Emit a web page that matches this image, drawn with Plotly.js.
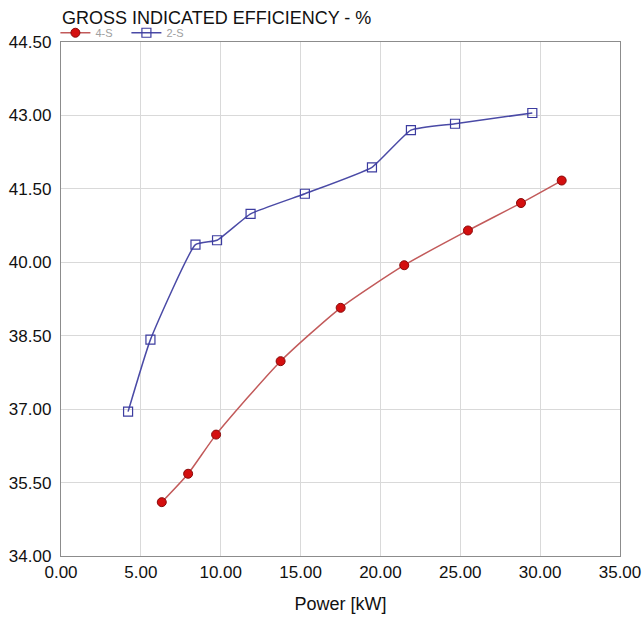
<!DOCTYPE html>
<html>
<head>
<meta charset="utf-8">
<script src="https://cdn.plot.ly/plotly-3.0.1.min.js"></script>
<style>html,body{margin:0;padding:0;background:#fff;}#chart{width:644px;height:618px;}</style>
</head>
<body>
<div id="chart"></div>
<script>
const power4S = [6.31, 7.96, 9.71, 13.75, 17.51, 21.49, 25.48, 28.80, 31.35];
const eff4S   = [35.10, 35.68, 36.48, 37.98, 39.07, 39.94, 40.65, 41.21, 41.67];
const power2S = [4.20, 5.60, 8.42, 9.77, 11.87, 15.27, 19.47, 21.91, 24.67, 29.51];
const eff2S   = [36.95, 38.42, 40.36, 40.45, 40.99, 41.40, 41.94, 42.70, 42.83, 43.05];
const xTicks = [0, 5, 10, 15, 20, 25, 30, 35];
const yTicks = [34, 35.5, 37, 38.5, 40, 41.5, 43, 44.5];

const font = "Liberation Sans, Arial, sans-serif";
const traces = [
  {x: power4S, y: eff4S, name: '4-S', type: 'scatter', mode: 'lines+markers',
   line: {color: '#c25a5a', width: 1.5, shape: 'spline', smoothing: 0.6},
   marker: {symbol: 'circle', size: 9, color: '#d40f0f', line: {color: '#8a0a0a', width: 1}}},
  {x: power2S, y: eff2S, name: '2-S', type: 'scatter', mode: 'lines+markers',
   line: {color: '#4a4aa6', width: 1.5, shape: 'spline', smoothing: 0.4},
   marker: {symbol: 'square-open', size: 9, color: '#3c3ca0', line: {width: 1.2}}}
];
const layout = {
  width: 644, height: 618,
  margin: {l: 61, r: 24, t: 42, b: 62},
  paper_bgcolor: '#fff', plot_bgcolor: '#fff',
  font: {family: font, color: '#111'},
  title: {text: 'GROSS INDICATED EFFICIENCY - %', x: 62/644, xref: 'container', xanchor: 'left',
          y: 1 - 18/618, yref: 'container', yanchor: 'middle',
          font: {family: font, size: 18, color: '#111'}},
  showlegend: true,
  legend: {orientation: 'h', x: -0.01, xanchor: 'left', y: 1.018, yanchor: 'middle',
           font: {family: font, size: 11, color: '#a0a0a0'}, bgcolor: 'rgba(0,0,0,0)',
           tracegroupgap: 0, itemwidth: 30, entrywidth: 26, entrywidthmode: 'pixels'},
  xaxis: {range: [0, 35], tickvals: xTicks, tickformat: '.2f', showgrid: true,
          gridcolor: '#d9d9d9', gridwidth: 1, zeroline: false,
          showline: true, linecolor: '#8c8c8c', linewidth: 1.2, mirror: true,
          ticks: '', ticklen: 0, tickfont: {family: font, size: 17, color: '#111'},
          title: {text: 'Power [kW]', font: {family: font, size: 18, color: '#111'}, standoff: 16}},
  yaxis: {range: [34, 44.5], tickvals: yTicks, tickformat: '.2f', showgrid: true,
          gridcolor: '#d9d9d9', gridwidth: 1, zeroline: false,
          showline: true, linecolor: '#8c8c8c', linewidth: 1.2, mirror: true,
          ticks: '', ticklen: 0, ticklabelstandoff: 5, tickfont: {family: font, size: 17, color: '#111'}}
};
Plotly.newPlot('chart', traces, layout, {displayModeBar: false, staticPlot: true});
</script>
</body>
</html>
